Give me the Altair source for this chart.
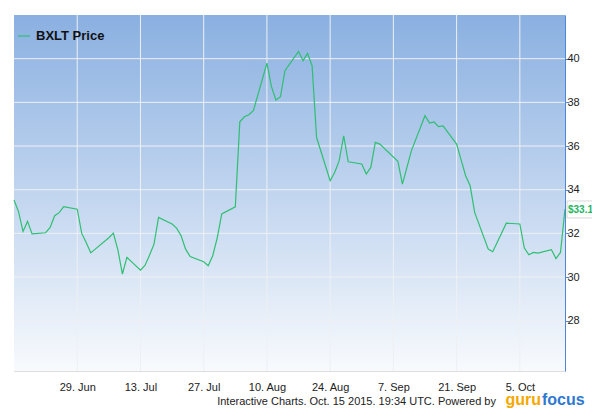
import altair as alt
import pandas as pd

# ---- data ----
dates = [
    "2015-06-15", "2015-06-16", "2015-06-17", "2015-06-18", "2015-06-19",
    "2015-06-22", "2015-06-23", "2015-06-24", "2015-06-25", "2015-06-26",
    "2015-06-29", "2015-06-30", "2015-07-01", "2015-07-02",
    "2015-07-06", "2015-07-07", "2015-07-08", "2015-07-09", "2015-07-10",
    "2015-07-13", "2015-07-14", "2015-07-15", "2015-07-16", "2015-07-17",
    "2015-07-20", "2015-07-21", "2015-07-22", "2015-07-23", "2015-07-24",
    "2015-07-27", "2015-07-28", "2015-07-29", "2015-07-30", "2015-07-31",
    "2015-08-03", "2015-08-04", "2015-08-05", "2015-08-06", "2015-08-07",
    "2015-08-10", "2015-08-11", "2015-08-12", "2015-08-13", "2015-08-14",
    "2015-08-17", "2015-08-18", "2015-08-19", "2015-08-20", "2015-08-21",
    "2015-08-24", "2015-08-25", "2015-08-26", "2015-08-27", "2015-08-28",
    "2015-08-31", "2015-09-01", "2015-09-02", "2015-09-03", "2015-09-04",
    "2015-09-08", "2015-09-09", "2015-09-10", "2015-09-11",
    "2015-09-14", "2015-09-15", "2015-09-16", "2015-09-17", "2015-09-18",
    "2015-09-21", "2015-09-22", "2015-09-23", "2015-09-24", "2015-09-25",
    "2015-09-28", "2015-09-29", "2015-09-30", "2015-10-01", "2015-10-02",
    "2015-10-05", "2015-10-06", "2015-10-07", "2015-10-08", "2015-10-09",
    "2015-10-12", "2015-10-13", "2015-10-14", "2015-10-15",
]
prices = [
    33.53, 33.00, 32.09, 32.55, 31.98,
    32.03, 32.27, 32.81, 32.95, 33.22,
    33.11, 32.00, 31.57, 31.11,
    31.80, 32.01, 31.25, 30.14, 30.90,
    30.32, 30.53, 31.00, 31.51, 32.73,
    32.43, 32.24, 31.89, 31.28, 30.94,
    30.70, 30.52, 30.98, 31.80, 32.89,
    33.22, 37.11, 37.34, 37.43, 37.62,
    39.80, 38.72, 38.11, 38.26, 39.45,
    40.33, 39.91, 40.24, 39.68, 36.39,
    34.41, 34.79, 35.33, 36.47, 35.28,
    35.18, 34.72, 35.02, 36.17, 36.09,
    35.30, 34.26, 35.02, 35.79,
    37.39, 37.05, 37.10, 36.89, 36.92,
    36.09, 35.37, 34.64, 34.18, 32.96,
    31.28, 31.16, 31.59, 32.03, 32.47,
    32.43, 31.33, 31.02, 31.13, 31.10,
    31.25, 30.85, 31.13, 33.12,
]
series_name = "BXLT Price"
last_label = "$33.1"
x_ticks = ["2015-06-29", "2015-07-13", "2015-07-27", "2015-08-10",
           "2015-08-24", "2015-09-07", "2015-09-21", "2015-10-05"]
y_ticks = [28, 30, 32, 34, 36, 38, 40]
footer_text = "Interactive Charts. Oct. 15 2015. 19:34 UTC. Powered by"
logo_a = "guru"
logo_b = "focus"

# ---- tables ----
df = pd.DataFrame({"date": dates, "price": prices, "series": series_name})
last_df = df.tail(1).assign(label=last_label)
xt_df = pd.DataFrame({"date": x_ticks})
yt_df = pd.DataFrame({"price": y_ticks})

FONT = "Liberation Sans, Arial, Helvetica, sans-serif"
GREEN = "#2FBF71"
W, H = 551, 356
PAD = {"left": 6, "top": 7, "right": 27, "bottom": 38}


def dt(s):
    y, m, d = (int(p) for p in s.split("-"))
    return alt.DateTime(year=y, month=m, date=d, utc=True)


x_scale = alt.Scale(type="utc", domain=[dt("2015-06-15"), dt("2015-10-15")])
y_scale = alt.Scale(domain=[25.7, 42], nice=False, zero=False)

x_axis = alt.Axis(
    values=[dt(s) for s in x_ticks], format="%-d. %b", title=None,
    grid=False, domain=False, ticks=False, tickSize=0, labelPadding=10,
    labelFont=FONT, labelFontSize=11, labelColor="#222222",
    labelOverlap=False, labelFlush=False,
)
y_axis = alt.Axis(
    orient="right", values=y_ticks, format="d", title=None, grid=False,
    domainColor="#4F86D6", tickColor="#4F86D6", tickSize=4, labelPadding=-2,
    labelFont=FONT, labelFontSize=11, labelColor="#222222", zindex=1,
)


def X(field="date:T"):
    return alt.X(field, scale=x_scale, axis=x_axis)


def Y(field="price:Q"):
    return alt.Y(field, scale=y_scale, axis=y_axis)


gradient = alt.LinearGradient(
    gradient="linear",
    stops=[alt.GradientStop(color="#8AB0E1", offset=0),
           alt.GradientStop(color="#F8FAFD", offset=1)],
    x1=0, x2=0, y1=0, y2=1,
)

one = alt.Data(values=[{}])

bg = alt.Chart(one).mark_rect(color=gradient).encode(
    x=alt.value(0), x2=alt.value("width"), y=alt.value(0), y2=alt.value("height")
)

vgrid = alt.Chart(xt_df).mark_rule(color="#EEF0F3", strokeWidth=1).encode(
    x=X()
)
hgrid = alt.Chart(yt_df).mark_rule(color="#EEF0F3", strokeWidth=1).encode(
    y=Y()
)

line = alt.Chart(df).mark_line(strokeWidth=1.2, interpolate="linear").encode(
    x=X(), y=Y(),
    color=alt.Color(
        "series:N", scale=alt.Scale(range=[GREEN]),
        legend=alt.Legend(
            orient="none", legendX=3, legendY=14, title=None, padding=0,
            symbolType="stroke", symbolSize=144, symbolStrokeWidth=1.2,
            labelFont=FONT, labelFontSize=13, labelFontWeight="bold",
            labelColor="#111111", labelOffset=5,
        ),
    ),
)

label_box = alt.Chart(last_df).mark_rect(
    fill="white", stroke="#D8D8D8", strokeWidth=1,
    xOffset=2, x2Offset=30, yOffset=-8, y2Offset=9,
).encode(x=X(), x2="date:T", y=Y(), y2="price:Q")

label_text = alt.Chart(last_df).mark_text(
    align="left", baseline="middle", dx=3, dy=1, color="#22B55F",
    font=FONT, fontSize=10, fontWeight="bold",
).encode(x=X(), y=Y(), text="label:N")

footer = alt.Chart(one).mark_text(
    text=footer_text, align="right", baseline="middle", font=FONT,
    fontSize=11, color="#222222",
).encode(x=alt.value(482), y=alt.value(387))

logo1 = alt.Chart(one).mark_text(
    text=logo_a, align="right", baseline="alphabetic",
    font=FONT, fontSize=16, fontWeight="bold", color="#F5A800",
).encode(x=alt.value(527), y=alt.value(390))

logo2 = alt.Chart(one).mark_text(
    text=logo_b, align="left", baseline="alphabetic",
    font=FONT, fontSize=16, fontWeight="bold", color="#2F78D0",
).encode(x=alt.value(528), y=alt.value(390))

chart = alt.layer(
    bg, vgrid, hgrid, line, label_box, label_text, footer, logo1, logo2
).properties(
    width=W, height=H,
    autosize=alt.AutoSizeParams(type="none"),
    padding=PAD,
).configure_view(
    stroke="#7AA5E0", strokeWidth=1
).configure(
    background="white"
)

chart.save("out.html", embed_options={"renderer": "svg", "actions": False})
